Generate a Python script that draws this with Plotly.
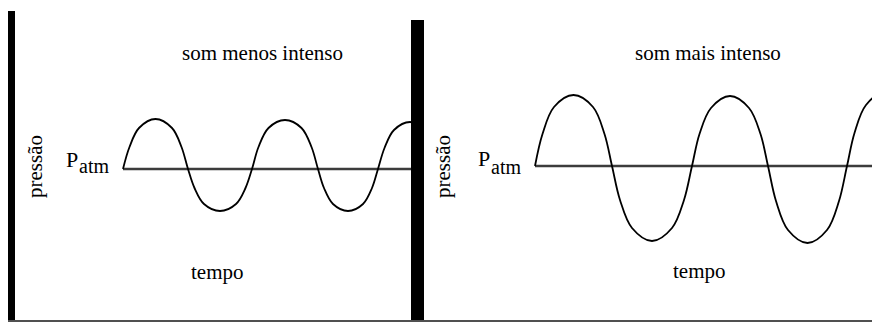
import plotly.graph_objects as go

# pressure relative to P_atm (positive = above) against time
left_t = [108, 114.5, 124, 140.5, 157, 166.5, 173,
          179.5, 189, 205, 221, 230.5, 237,
          243.5, 253.5, 270, 286.5, 296.5, 303,
          309, 318, 333, 348, 357, 363,
          369.5, 379, 395, 411]
left_p = [0, 22, 41, 50, 41, 22, 0,
          -19, -35, -42, -35, -19, 0,
          22, 41, 49, 41, 22, 0,
          -19, -35, -42, -35, -19, 0,
          21, 39, 47, 39]
left_base_t = [108, 403]

right_t = [111, 118.5, 130, 149.5, 169, 180.5, 188,
           196, 208, 228, 248, 260, 268,
           275.5, 287, 306, 325, 336.5, 344,
           352, 364, 383.5, 403, 415, 423,
           430.5, 442, 461.5, 481]
right_p = [0, 32, 59, 71, 59, 32, 0,
           -34, -62, -75, -62, -34, 0,
           32, 58, 70, 58, 32, 0,
           -35, -64, -77, -64, -35, 0,
           33, 61, 74, 61]
right_base_t = [111, 464]
base_p = [0, 0]

panel_titles = ["som menos intenso", "som mais intenso"]
x_label = "tempo"
y_label = "pressão"

W, H = 880, 322
FONT = "Liberation Serif"

fig = go.Figure()

# left panel
fig.add_trace(go.Scatter(x=left_base_t, y=base_p, mode="lines",
                         line=dict(color="#3c3c3c", width=2.5),
                         xaxis="x", yaxis="y", hoverinfo="skip"))
fig.add_trace(go.Scatter(x=left_t, y=left_p, mode="lines",
                         line=dict(color="black", width=1.8, shape="spline"),
                         xaxis="x", yaxis="y", hoverinfo="skip"))

# right panel
fig.add_trace(go.Scatter(x=right_base_t, y=base_p, mode="lines",
                         line=dict(color="#3c3c3c", width=2.5),
                         xaxis="x2", yaxis="y2", hoverinfo="skip"))
fig.add_trace(go.Scatter(x=right_t, y=right_p, mode="lines",
                         line=dict(color="black", width=1.8, shape="spline"),
                         xaxis="x2", yaxis="y2", hoverinfo="skip"))


def text(s, x, y, xref, yref, size=21, **kw):
    return dict(text=s, x=x, y=y, xref=xref, yref=yref, showarrow=False,
                font=dict(family=FONT, size=size, color="black"), **kw)


annotations = []
# left panel labels
annotations.append(text(panel_titles[0], 247, 116, "x", "y"))
annotations.append(text(x_label, 202, -103, "x", "y"))
annotations.append(text(y_label, 20, 2, "x", "y", textangle=-90))
annotations.append(text("P", 65, 9.5, "x", "y", size=22, xanchor="right"))
annotations.append(text("atm", 61.5, 2.8, "x", "y", size=20, xanchor="left"))
# right panel labels
annotations.append(text(panel_titles[1], 284, 113, "x2", "y2"))
annotations.append(text(x_label, 275, -105, "x2", "y2"))
annotations.append(text(y_label, 19, -1, "x2", "y2", textangle=-90))
annotations.append(text("P", 68, 7.8, "x2", "y2", size=22, xanchor="right"))
annotations.append(text("atm", 64.5, -0.5, "x2", "y2", size=20, xanchor="left"))

hidden = dict(showticklabels=False, ticks="", showgrid=False, zeroline=False, fixedrange=True)

# the page body adds an 8px offset, so the frame is laid out 8px up and left
fig.update_layout(
    width=W, height=H,
    margin=dict(l=0, r=0, t=0, b=0, pad=0),
    paper_bgcolor="white", plot_bgcolor="white",
    showlegend=False,
    annotations=annotations,
    xaxis=dict(domain=[7 / W, 410 / W], range=[0, 403], anchor="y",
               showline=True, linecolor="#505050", linewidth=2, **hidden),
    yaxis=dict(domain=[10 / H, 1 - 3 / H], range=[-151, 158], anchor="x",
               showline=True, linecolor="black", linewidth=8, **hidden),
    xaxis2=dict(domain=[416 / W, 1], range=[0, 464], anchor="y2",
                showline=True, linecolor="#505050", linewidth=2, **hidden),
    yaxis2=dict(domain=[10 / H, 1 - 12 / H], range=[-154, 146], anchor="x2",
                showline=True, linecolor="black", linewidth=13, **hidden),
)

fig.write_html("out.html")
